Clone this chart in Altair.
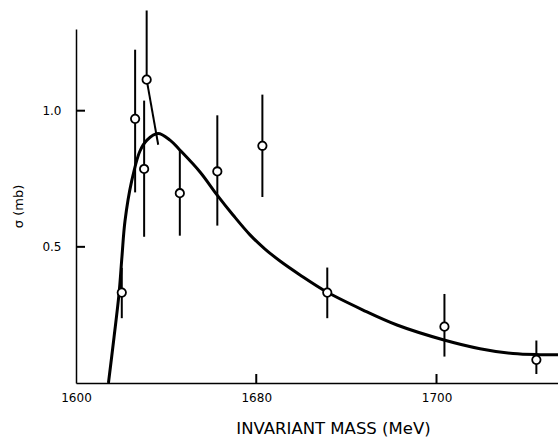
import altair as alt
import pandas as pd

# Data points (mass in MeV, cross-section in mb)
mass = [1612.7, 1616.4, 1618.9, 1619.6, 1628.8, 1639.2, 1651.7, 1669.7, 1702.2, 1727.7]
sigma = [0.332, 0.970, 0.786, 1.114, 0.697, 0.777, 0.871, 0.332, 0.207, 0.085]
err_low = [0.238, 0.700, 0.537, 1.114, 0.541, 0.578, 0.683, 0.238, 0.097, 0.033]
err_high = [0.423, 1.224, 1.037, 1.368, 0.857, 0.983, 1.059, 0.424, 0.327, 0.156]

# Fitted curve
curve_mass = [1609.0, 1610.54, 1611.93, 1612.76, 1613.59, 1615.45, 1617.75, 1619.69,
              1622.75, 1626.07, 1628.85, 1634.40, 1639.11, 1643.55, 1648.27, 1652.43,
              1656.59, 1662.14, 1669.63, 1679.61, 1689.04, 1702.08, 1712.07, 1721.22,
              1728.71, 1733.7]
curve_sigma = [0.0, 0.167, 0.327, 0.466, 0.595, 0.742, 0.852, 0.892,
               0.916, 0.892, 0.855, 0.775, 0.691, 0.617, 0.544, 0.492,
               0.448, 0.397, 0.334, 0.268, 0.213, 0.158, 0.126, 0.108,
               0.104, 0.104]

# Short narrow branch
branch_mass = [1619.6, 1622.8]
branch_sigma = [1.114, 0.875]

# Axis ticks
x_ticks = [1600, 1650, 1700]
x_tick_labels = ["1600", "1680", "1700"]
y_ticks = [0.5, 1.0]
y_tick_labels = ["0.5", "1.0"]

X_DOMAIN = [1600, 1733.7]
Y_DOMAIN = [0, 1.30]

pts = pd.DataFrame({"m": mass, "s": sigma, "lo": err_low, "hi": err_high})
crv = pd.DataFrame({"m": curve_mass, "s": curve_sigma})
br = pd.DataFrame({"m": branch_mass, "s": branch_sigma})
xt = pd.DataFrame({"m": [t for t in x_ticks if t != X_DOMAIN[0]]})
yt = pd.DataFrame({"s": y_ticks})

label_expr = " : ".join(
    f"datum.value == {v} ? '{l}'" for v, l in zip(x_ticks, x_tick_labels)
) + " : datum.label"
ylabel_expr = " : ".join(
    f"datum.value == {v} ? '{l}'" for v, l in zip(y_ticks, y_tick_labels)
) + " : datum.label"

FONT = "DejaVu Sans"
W, H = 482, 354
TICK = 9

xscale = alt.Scale(domain=X_DOMAIN, nice=False, zero=False)
yscale = alt.Scale(domain=Y_DOMAIN, nice=False)

xaxis = alt.Axis(
    values=x_ticks, labelExpr=label_expr, ticks=False, grid=False,
    domainColor="black", domainWidth=1.5, labelFont=FONT, labelFontSize=12,
    labelColor="black", labelPadding=9, labelFlush=False,
    title="INVARIANT  MASS (MeV)", titleFont=FONT, titleFontSize=16.5,
    titleFontWeight="normal", titleColor="black", titleX=257, titleY=50,
    titleBaseline="alphabetic", titleAlign="center",
)
yaxis = alt.Axis(
    values=y_ticks, labelExpr=ylabel_expr, ticks=False, grid=False,
    domainColor="black", domainWidth=1.5, labelFont=FONT, labelFontSize=12,
    labelColor="black", labelPadding=15,
    title="σ (mb)", titleFont=FONT, titleFontSize=13, titleFontWeight="normal",
    titleColor="black", titleX=-51, titleY=177, titleBaseline="bottom",
    titleAlign="center", titleAngle=270,
)

base_x = alt.X("m:Q", scale=xscale, axis=xaxis)
base_y = alt.Y("s:Q", scale=yscale, axis=yaxis)

curve = alt.Chart(crv).mark_line(
    color="black", strokeWidth=3, interpolate="catmull-rom"
).encode(x=base_x, y=base_y)

branch = alt.Chart(br).mark_line(color="black", strokeWidth=2).encode(
    x=alt.X("m:Q", scale=xscale), y=alt.Y("s:Q", scale=yscale)
)

errs = alt.Chart(pts).mark_rule(color="black", strokeWidth=2).encode(
    x=alt.X("m:Q", scale=xscale),
    y=alt.Y("lo:Q", scale=yscale),
    y2="hi:Q",
)

circles = alt.Chart(pts).mark_point(
    shape="circle", size=70, filled=False, color="black", fill="white",
    fillOpacity=1, strokeWidth=1.8, opacity=1
).encode(x=alt.X("m:Q", scale=xscale), y=alt.Y("s:Q", scale=yscale))

xtick_marks = alt.Chart(xt).mark_tick(
    color="black", thickness=2, size=TICK, orient="vertical", opacity=1
).encode(x=alt.X("m:Q", scale=xscale), y=alt.value(H - TICK / 2))

ytick_marks = alt.Chart(yt).mark_tick(
    color="black", thickness=2, size=TICK, orient="horizontal", opacity=1
).encode(y=alt.Y("s:Q", scale=yscale), x=alt.value(TICK / 2))

chart = alt.layer(curve, branch, errs, circles, xtick_marks, ytick_marks).properties(
    width=W, height=H,
    autosize=alt.AutoSizeParams(type="none"),
    padding={"left": 76, "top": 29, "right": 0, "bottom": 55},
    background="white",
).configure_view(stroke=None)

chart.save("out.html", embed_options={"renderer": "svg", "actions": False})
